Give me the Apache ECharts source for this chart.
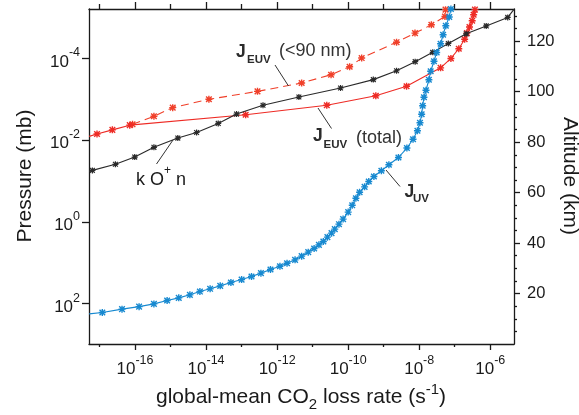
<!DOCTYPE html>
<html>
<head>
<meta charset="utf-8">
<script src="https://cdn.jsdelivr.net/npm/echarts@6/dist/echarts.min.js"></script>
<style>
  html, body { margin: 0; padding: 0; background: #fff; }
  #chart { width: 579px; height: 415px; }
</style>
</head>
<body>
<div id="chart"></div>
<script>
// Global-mean CO2 loss rates (s^-1) against pressure (mb)

// J_UV photolysis
const uvRate = [5.1e-18, 1.2e-17, 4.3e-17, 1.3e-16, 3.4e-16, 8.0e-16, 1.7e-15, 3.5e-15, 6.7e-15, 1.3e-14,
  2.5e-14, 5.0e-14, 1.0e-13, 1.9e-13, 3.5e-13, 6.5e-13, 1.2e-12, 1.9e-12, 3.2e-12, 4.9e-12,
  7.5e-12, 1.1e-11, 1.5e-11, 2.0e-11, 2.6e-11, 3.4e-11, 4.2e-11, 5.5e-11, 7.2e-11, 1.0e-10,
  1.3e-10, 1.65e-10, 2.1e-10, 2.9e-10, 3.8e-10, 5.3e-10, 8.6e-10, 1.4e-9, 2.6e-9, 4.5e-9,
  6.7e-9, 8.9e-9, 1.05e-8, 1.17e-8, 1.25e-8, 1.36e-8, 1.55e-8, 1.87e-8, 2.1e-8, 2.6e-8,
  3.1e-8, 4.0e-8, 4.7e-8, 5.6e-8, 7.0e-8, 7.8e-8];
const uvPressure = [179, 166, 137, 119, 102, 84.5, 72.6, 61.2, 50.9, 43.6,
  36.9, 30.6, 25.9, 21.8, 18.0, 14.7, 12.2, 10.3, 8.51, 6.92,
  5.52, 4.50, 3.66, 3.03, 2.37, 1.89, 1.51, 1.14, 0.857, 0.578,
  0.394, 0.265, 0.189, 0.139, 0.103, 0.0776, 0.0562, 0.0401, 0.0266, 0.0156,
  0.00953, 0.00590, 0.00376, 0.00233, 0.00144, 8.91e-4, 6.01e-4, 3.33e-4, 2.06e-4, 1.17e-4,
  7.13e-5, 4.37e-5, 2.63e-5, 1.58e-5, 9.68e-6, 6.17e-6];

// J_EUV, all wavelengths
const euvTotalRate = [5.1e-18, 8.5e-18, 2.3e-17, 7.1e-17, 1.3e-13, 2.5e-11, 6.0e-10, 4.4e-9, 4.0e-8,
  7.8e-8, 1.3e-7, 1.9e-7, 2.2e-7, 2.6e-7, 3.1e-7, 3.4e-7, 3.7e-7];
const euvTotalPressure = [8.1e-3, 7.1e-3, 5.6e-3, 4.3e-3, 2.4e-3, 1.4e-3, 8.2e-4, 4.8e-4, 1.7e-4,
  1.0e-4, 5.8e-5, 3.4e-5, 2.4e-5, 1.7e-5, 1.2e-5, 8.5e-6, 6.4e-6];

// J_EUV, wavelengths below 90 nm
const euvShortRate = [8.5e-17, 3.4e-16, 1.15e-15, 1.2e-14, 2.8e-13, 4.9e-12, 3.3e-11, 1.1e-10, 2.4e-10,
  2.3e-9, 7.6e-9, 2.2e-8, 5.3e-8, 5.5e-8];
const euvShortPressure = [4.1e-3, 2.6e-3, 1.6e-3, 1.0e-3, 6.4e-4, 4.0e-4, 2.5e-4, 1.6e-4, 9.8e-5,
  4.0e-5, 2.4e-5, 1.5e-5, 9.4e-6, 6.4e-6];

// k [O+] n, ion-molecule reaction
const ionRate = [5.1e-18, 6.3e-18, 2.8e-17, 9.8e-17, 3.4e-16, 1.6e-15, 5.4e-15, 2.2e-14, 7.2e-14, 4.0e-13,
  4.1e-12, 6.1e-11, 5.1e-10, 2.3e-9, 7.7e-9, 2.4e-8, 6.6e-8, 2.1e-7, 7.7e-7, 3.1e-6, 4.7e-6];
const ionPressure = [5.9e-2, 5.5e-2, 3.9e-2, 2.6e-2, 1.5e-2, 8.9e-3, 6.5e-3, 3.9e-3, 2.3e-3, 1.4e-3,
  8.8e-4, 5.3e-4, 3.3e-4, 2.0e-4, 1.2e-4, 7.1e-5, 4.3e-5, 2.5e-5, 1.6e-5, 9.9e-6, 6.2e-6];

// Axis ranges (decades) and ticks
const rateExpRange = [-17.296, -5.332];
const pressureExpRange = [-5.21, 2.99];
const altitudeRange = [0, 132.8];
const rateLabelExps = [-16, -14, -12, -10, -8, -6];
const rateMinorExps = [-17, -15, -13, -11, -9, -7];
const pressureLabelExps = [-4, -2, 0, 2];
const altitudeLabels = [20, 40, 60, 80, 100, 120];
const altitudeMinor = [5, 10, 15, 25, 30, 35, 45, 50, 55, 65, 70, 75, 85, 90, 95, 105, 110, 115, 125, 130];

const FONT = '"Liberation Sans", Arial, Helvetica, sans-serif';
const INK = '#1a1a1a';
const STAR = 'path://M4,0H6V10H4Z M0,4H10V6H0Z M1.707,0.293L9.707,8.293L8.293,9.707L0.293,1.707Z M9.707,1.707L1.707,9.707L0.293,8.293L8.293,0.293Z';

function toLogPoints(rates, pressures) {
  return rates.map((r, i) => {
    const x = Math.log10(r);
    const y = Math.log10(pressures[i]);
    const onFrame = x <= rateExpRange[0] + 0.02 || x >= rateExpRange[1] - 0.02;
    return onFrame ? { value: [x, y], symbol: 'none' } : [x, y];
  });
}

function expText(v) {
  return v < 0 ? '-' + Math.abs(v) : String(v);
}

const powerLabel = {
  color: INK,
  fontFamily: FONT,
  formatter: v => '{b|10}{s|' + expText(Math.round(v)) + '}',
  rich: {
    b: { fontSize: 17, lineHeight: 24, verticalAlign: 'bottom', fontFamily: FONT, color: INK },
    s: { fontSize: 12.5, lineHeight: 13, verticalAlign: 'top', fontFamily: FONT, color: INK }
  }
};

const axisStroke = { color: INK, width: 1.3 };

function tickOnlyAxis(base, values, len, showLine) {
  return Object.assign({
    axisLine: { show: !!showLine, onZero: false, lineStyle: axisStroke },
    axisTick: { show: true, customValues: values, length: len, lineStyle: axisStroke },
    axisLabel: { show: false },
    splitLine: { show: false }
  }, base);
}

const chart = echarts.init(document.getElementById('chart'), null, { renderer: 'canvas' });

const lineSeries = (name, rates, pressures, color, size, dashed, z) => ({
  name,
  type: 'line',
  xAxisIndex: 0,
  yAxisIndex: 0,
  data: toLogPoints(rates, pressures),
  symbol: STAR,
  symbolSize: size,
  showSymbol: true,
  clip: true,
  z,
  lineStyle: { color, width: 1.1, type: dashed ? [8, 5] : 'solid' },
  itemStyle: { color, borderWidth: 0 },
  emphasis: { disabled: true }
});

chart.setOption({
  animation: false,
  backgroundColor: '#fff',
  grid: { left: 89, top: 9, width: 425, height: 335, containLabel: false, outerBoundsMode: 'none' },
  xAxis: [
    {
      type: 'value', position: 'bottom', min: rateExpRange[0], max: rateExpRange[1],
      axisLine: { show: true, onZero: false, lineStyle: axisStroke },
      axisTick: { show: true, customValues: rateLabelExps, length: 6, lineStyle: axisStroke },
      axisLabel: Object.assign({ show: true, customValues: rateLabelExps, margin: 10 }, powerLabel),
      splitLine: { show: false }
    },
    tickOnlyAxis({ type: 'value', position: 'bottom', min: rateExpRange[0], max: rateExpRange[1] }, rateMinorExps, 3),
    tickOnlyAxis({ type: 'value', position: 'top', min: rateExpRange[0], max: rateExpRange[1] }, rateLabelExps, 7, true),
    tickOnlyAxis({ type: 'value', position: 'top', min: rateExpRange[0], max: rateExpRange[1] }, rateMinorExps, 5)
  ],
  yAxis: [
    {
      type: 'value', position: 'left', inverse: true, min: pressureExpRange[0], max: pressureExpRange[1],
      axisLine: { show: true, onZero: false, lineStyle: axisStroke },
      axisTick: { show: true, customValues: pressureLabelExps, length: 7, lineStyle: axisStroke },
      axisLabel: Object.assign({ show: true, customValues: pressureLabelExps, margin: 9 }, powerLabel),
      splitLine: { show: false }
    },
    {
      type: 'value', position: 'right', min: altitudeRange[0], max: altitudeRange[1],
      axisLine: { show: true, onZero: false, lineStyle: axisStroke },
      axisTick: { show: true, customValues: altitudeLabels, length: 6, lineStyle: axisStroke },
      axisLabel: { show: true, customValues: altitudeLabels, margin: 13, fontSize: 16.5, fontFamily: FONT, color: INK },
      splitLine: { show: false }
    },
    tickOnlyAxis({ type: 'value', position: 'right', min: altitudeRange[0], max: altitudeRange[1] }, altitudeMinor, 3)
  ],
  series: [
    lineSeries('J_EUV (<90 nm)', euvShortRate, euvShortPressure, '#f0402a', 7, true, 2),
    lineSeries('J_EUV (total)', euvTotalRate, euvTotalPressure, '#ee2b25', 7, false, 3),
    lineSeries('k O+ n', ionRate, ionPressure, '#2a2a2a', 6, false, 4),
    lineSeries('J_UV', uvRate, uvPressure, '#1789d0', 7, false, 5)
  ],
  graphic: [
    // axis titles
    {
      type: 'text', x: 301, y: 397, z: 10,
      style: {
        text: '{t|global-mean CO}{d|2}{t| loss rate (s}{u|-1}{t|)}',
        align: 'center', verticalAlign: 'middle', textAlign: 'center', textVerticalAlign: 'middle',
        rich: {
          t: { fontSize: 21, lineHeight: 30, verticalAlign: 'middle', fontFamily: FONT, fill: INK, color: INK },
          d: { fontSize: 15, lineHeight: 16, verticalAlign: 'bottom', fontFamily: FONT, fill: INK, color: INK },
          u: { fontSize: 15, lineHeight: 16, verticalAlign: 'top', fontFamily: FONT, fill: INK, color: INK }
        }
      }
    },
    {
      type: 'text', x: 25, y: 176, rotation: Math.PI / 2, z: 10,
      style: { text: 'Pressure (mb)', fontSize: 21, fontFamily: FONT, fill: INK,
        align: 'center', verticalAlign: 'middle', textAlign: 'center', textVerticalAlign: 'middle' }
    },
    {
      type: 'text', x: 570, y: 176, rotation: -Math.PI / 2, z: 10,
      style: { text: 'Altitude (km)', fontSize: 21, fontFamily: FONT, fill: INK,
        align: 'center', verticalAlign: 'middle', textAlign: 'center', textVerticalAlign: 'middle' }
    },
    // curve labels
    { type: 'text', x: 236, y: 52, z: 10, style: { text: 'J', fontSize: 17.5, fontWeight: 'bold', fontFamily: FONT, fill: '#2b2b2b', verticalAlign: 'middle', textVerticalAlign: 'middle' } },
    { type: 'text', x: 247, y: 60, z: 10, style: { text: 'EUV', fontSize: 11.5, fontWeight: 'bold', fontFamily: FONT, fill: '#2b2b2b', verticalAlign: 'middle', textVerticalAlign: 'middle' } },
    { type: 'text', x: 279, y: 51, z: 10, style: { text: '(<90 nm)', fontSize: 18, fontFamily: FONT, fill: '#333', verticalAlign: 'middle', textVerticalAlign: 'middle' } },
    { type: 'line', z: 10, shape: { x1: 275, y1: 65, x2: 288.5, y2: 86 }, style: { stroke: '#333', lineWidth: 1 } },

    { type: 'text', x: 313, y: 136, z: 10, style: { text: 'J', fontSize: 17.5, fontWeight: 'bold', fontFamily: FONT, fill: '#2b2b2b', verticalAlign: 'middle', textVerticalAlign: 'middle' } },
    { type: 'text', x: 323.5, y: 145, z: 10, style: { text: 'EUV', fontSize: 11.5, fontWeight: 'bold', fontFamily: FONT, fill: '#2b2b2b', verticalAlign: 'middle', textVerticalAlign: 'middle' } },
    { type: 'text', x: 356, y: 138, z: 10, style: { text: '(total)', fontSize: 18, fontFamily: FONT, fill: '#333', verticalAlign: 'middle', textVerticalAlign: 'middle' } },
    { type: 'line', z: 10, shape: { x1: 318, y1: 108, x2: 331.5, y2: 128.5 }, style: { stroke: '#333', lineWidth: 1 } },

    {
      type: 'text', x: 136, y: 177, z: 10,
      style: {
        text: '{a|k O}{s|+}{a| n}', verticalAlign: 'middle', textVerticalAlign: 'middle',
        rich: {
          a: { fontSize: 18, lineHeight: 24, verticalAlign: 'bottom', fontFamily: FONT, fill: INK, color: INK },
          s: { fontSize: 12, lineHeight: 13, verticalAlign: 'top', fontFamily: FONT, fill: INK, color: INK }
        }
      }
    },
    { type: 'line', z: 10, shape: { x1: 173, y1: 140, x2: 156.5, y2: 164 }, style: { stroke: '#333', lineWidth: 1 } },

    { type: 'text', x: 404.5, y: 192.5, z: 10, style: { text: 'J', fontSize: 17.5, fontWeight: 'bold', fontFamily: FONT, fill: '#2b2b2b', verticalAlign: 'middle', textVerticalAlign: 'middle' } },
    { type: 'text', x: 413, y: 198.5, z: 10, style: { text: 'UV', fontSize: 11.5, fontWeight: 'bold', fontFamily: FONT, fill: '#2b2b2b', verticalAlign: 'middle', textVerticalAlign: 'middle' } },
    { type: 'line', z: 10, shape: { x1: 386, y1: 170, x2: 400, y2: 186.5 }, style: { stroke: '#333', lineWidth: 1 } }
  ]
});
</script>
</body>
</html>
